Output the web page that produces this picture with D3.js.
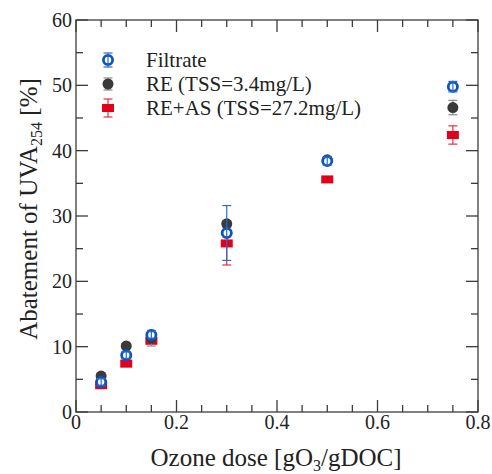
<!DOCTYPE html>
<html><head><meta charset="utf-8">
<script src="https://cdn.jsdelivr.net/npm/d3@7"></script>
<style>body{margin:0;background:#fff}svg{display:block}text{font-family:"Liberation Serif","Times New Roman",serif;fill:#222}</style>
</head><body>
<svg id="c" width="492" height="474"></svg>
<script>
const doses = [0.05, 0.1, 0.15, 0.3, 0.5, 0.75];
const filtrate = [4.6, 8.7, 11.8, 27.4, 38.4, 49.8];
const filtrateErr = [0.5, 0.5, 0.5, 4.2, 0.6, 0.8];
const re = [5.5, 10.1, 11.3, 28.8, 38.6, 46.6];
const reErr = [0.4, 0.3, 1.2, 0.5, 0.5, 1.1];
const reas = [4.1, 7.4, 10.9, 25.8, 35.6, 42.4];
const reasErr = [0.3, 0.3, 0.4, 3.3, 0.3, 1.4];
const xTicks = [0, 0.2, 0.4, 0.6, 0.8];
const yTicks = [0, 10, 20, 30, 40, 50, 60];
const legendLabels = ["Filtrate", "RE (TSS=3.4mg/L)", "RE+AS (TSS=27.2mg/L)"];

const svg = d3.select("#c");
const L = 76, R = 478, T = 20, B = 412;
const x = d3.scaleLinear().domain([0, 0.8]).range([L, R]);
const y = d3.scaleLinear().domain([0, 60]).range([B, T]);
const axisColor = "#3c3c3c";

svg.append("rect").attr("x", L).attr("y", T).attr("width", R - L).attr("height", B - T)
  .attr("fill", "none").attr("stroke", axisColor).attr("stroke-width", 1.3);

const xMinor = d3.range(0, 0.8001, 0.05);
const yMinor = d3.range(0, 60.001, 5);
const isMajX = v => Math.abs(v / 0.2 - Math.round(v / 0.2)) < 1e-6;
const isMajY = v => Math.abs(v / 10 - Math.round(v / 10)) < 1e-6;
const tg = svg.append("g").attr("stroke", axisColor).attr("stroke-width", 1.3);
xMinor.forEach(v => {
  const len = isMajX(v) ? 12 : 7;
  tg.append("line").attr("x1", x(v)).attr("x2", x(v)).attr("y1", B).attr("y2", B - len);
  tg.append("line").attr("x1", x(v)).attr("x2", x(v)).attr("y1", T).attr("y2", T + len);
});
yMinor.forEach(v => {
  const len = isMajY(v) ? 12 : 7;
  tg.append("line").attr("y1", y(v)).attr("y2", y(v)).attr("x1", L).attr("x2", L + len);
  tg.append("line").attr("y1", y(v)).attr("y2", y(v)).attr("x1", R).attr("x2", R - len);
});

svg.append("g").selectAll("text").data(xTicks).join("text")
  .attr("x", d => x(d)).attr("y", B + 17).attr("text-anchor", "middle")
  .attr("font-size", 20).text(d => d === 0 ? "0" : d3.format(".1f")(d));
svg.append("g").selectAll("text").data(yTicks).join("text")
  .attr("x", L - 4).attr("y", d => y(d) + 7).attr("text-anchor", "end")
  .attr("font-size", 20).text(d => d);

const xt = svg.append("text").attr("x", 276).attr("y", 466).attr("text-anchor", "middle").attr("font-size", 25);
xt.append("tspan").text("Ozone dose [gO");
xt.append("tspan").attr("font-size", 16).attr("dy", 5).text("3");
xt.append("tspan").attr("dy", -5).text("/gDOC]");
const yt = svg.append("text").attr("transform", "translate(37,209) rotate(-90)").attr("text-anchor", "middle").attr("font-size", 25);
yt.append("tspan").text("Abatement of UVA");
yt.append("tspan").attr("font-size", 16).attr("dy", 5).text("254");
yt.append("tspan").attr("dy", -5).text(" [%]");

const series = [
  {vals: reas, err: reasErr, color: "#e3001b", errColor: "#e8303f", shape: "square"},
  {vals: re, err: reErr, color: "#3a3a3a", errColor: "#8a8a8a", shape: "filled"},
  {vals: filtrate, err: filtrateErr, color: "#0a55c4", errColor: "#2a6ad0", shape: "open"}
];

function drawMarker(g, cx, cy, s) {
  if (s.shape === "square") {
    g.append("rect").attr("x", cx - 6).attr("y", cy - 4).attr("width", 12).attr("height", 8).attr("fill", s.color);
  } else if (s.shape === "filled") {
    g.append("circle").attr("cx", cx).attr("cy", cy).attr("r", 5.5).attr("fill", s.color);
  } else {
    g.append("circle").attr("cx", cx).attr("cy", cy).attr("r", 4.6).attr("fill", "#fff").attr("stroke", s.color).attr("stroke-width", 2.8);
  }
}
function drawErr(g, cx, y1, y2, color) {
  const e = g.append("g").attr("stroke", color).attr("stroke-width", 1.2);
  e.append("line").attr("x1", cx).attr("x2", cx).attr("y1", y1).attr("y2", y2);
  e.append("line").attr("x1", cx - 4.5).attr("x2", cx + 4.5).attr("y1", y1).attr("y2", y1);
  e.append("line").attr("x1", cx - 4.5).attr("x2", cx + 4.5).attr("y1", y2).attr("y2", y2);
}

series.forEach(s => {
  const g = svg.append("g");
  doses.forEach((d, i) => {
    const cx = x(d), cy = y(s.vals[i]);
    if (s.shape === "open") {
      drawMarker(g, cx, cy, s);
      drawErr(g, cx, y(s.vals[i] + s.err[i]), y(s.vals[i] - s.err[i]), s.errColor);
    } else {
      drawErr(g, cx, y(s.vals[i] + s.err[i]), y(s.vals[i] - s.err[i]), s.errColor);
      drawMarker(g, cx, cy, s);
    }
  });
});

const legSeries = [series[2], series[1], series[0]];
const legErr = [7, 6, 9];
legSeries.forEach((s, i) => {
  const g = svg.append("g");
  const cx = 108, cy = 60 + i * 24;
  if (s.shape === "open") {
    drawMarker(g, cx, cy, s);
    drawErr(g, cx, cy - legErr[i], cy + legErr[i], s.errColor);
  } else {
    drawErr(g, cx, cy - legErr[i], cy + legErr[i], s.errColor);
    drawMarker(g, cx, cy, s);
  }
  svg.append("text").attr("x", 146).attr("y", cy + 7).attr("font-size", 21).text(legendLabels[i]);
});
</script>
</body></html>
